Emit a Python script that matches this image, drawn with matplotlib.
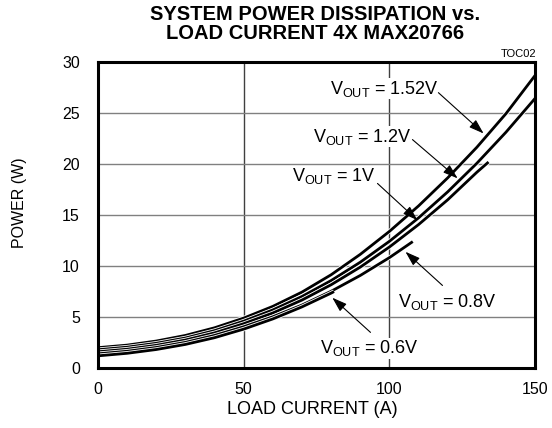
import numpy as np
import matplotlib.pyplot as plt
import matplotlib.patheffects as pe

plt.rcParams['font.family'] = ['Liberation Sans', 'DejaVu Sans']
plt.rcParams['mathtext.fontset'] = 'custom'
plt.rcParams['mathtext.rm'] = 'Liberation Sans'

# load current (A) and power (W)
i_full = [0, 10, 20, 30, 40, 50, 60, 70, 80, 90, 100, 110, 120, 130, 140, 150]
p_152 = [2.0, 2.25, 2.65, 3.2, 3.95, 4.9, 6.05, 7.45, 9.15, 11.15, 13.4, 15.9, 18.65, 21.65, 24.95, 28.7]
p_120 = [1.8, 2.05, 2.43, 2.95, 3.67, 4.6, 5.7, 7.02, 8.58, 10.38, 12.43, 14.73, 17.28, 20.08, 23.13, 26.45]

i_100 = [0, 10, 20, 30, 40, 50, 60, 70, 80, 90, 100, 110, 120, 130, 134]
p_100 = [1.6, 1.85, 2.23, 2.75, 3.45, 4.35, 5.4, 6.67, 8.17, 9.9, 11.87, 14.07, 16.5, 19.2, 20.2]

i_080 = [0, 10, 20, 30, 40, 50, 60, 70, 80, 90, 100, 108]
p_080 = [1.4, 1.65, 2.02, 2.52, 3.2, 4.05, 5.03, 6.18, 7.53, 9.08, 10.83, 12.4]

i_060 = [0, 10, 20, 30, 40, 50, 60, 70, 80, 81]
p_060 = [1.2, 1.45, 1.82, 2.32, 2.98, 3.82, 4.82, 6.0, 7.35, 7.5]

curves = [(i_full, p_152), (i_full, p_120), (i_100, p_100), (i_080, p_080), (i_060, p_060)]

# label text, text pos (baseline), arrow start, arrow tip
labels = [
    (r'V$_{\rm OUT}$ = 1.52V', (79.7, 26.9), (116.8, 27.0), (132.3, 23.0)),
    (r'V$_{\rm OUT}$ = 1.2V', (73.9, 22.2), (107.9, 22.4), (123.4, 18.6)),
    (r'V$_{\rm OUT}$ = 1V', (66.7, 18.3), (95.9, 18.1), (109.6, 14.5)),
    (r'V$_{\rm OUT}$ = 0.8V', (103.0, 6.0), (118.2, 8.1), (105.5, 11.4)),
    (r'V$_{\rm OUT}$ = 0.6V', (76.3, 1.45), (93.5, 3.5), (80.4, 6.9)),
]

fig = plt.figure(figsize=(5.52, 4.28), dpi=100)
ax = fig.add_axes([0.1775, 0.140, 0.792, 0.715])

for x, y in curves:
    ax.plot(x, y, color='black', lw=2.0, solid_capstyle='butt', solid_joinstyle='round',
            path_effects=[pe.Stroke(linewidth=3.2, foreground='white'), pe.Normal()], zorder=3)

for txt, tpos, a0, a1 in labels:
    ax.text(tpos[0], tpos[1], txt, fontsize=13, va='baseline', ha='left', zorder=4,
            bbox=dict(facecolor='white', edgecolor='none', pad=0.5))
    ax.annotate('', xy=a1, xytext=a0, zorder=5,
                arrowprops=dict(arrowstyle='-|>,head_length=0.9,head_width=0.3',
                                color='black', lw=0.8, shrinkA=0, shrinkB=0))

ax.set_xlim(0, 150)
ax.set_ylim(0, 30)
ax.set_xticks([0, 50, 100, 150])
ax.set_yticks([0, 5, 10, 15, 20, 25, 30])
ax.tick_params(length=0, labelsize=11.5)
ax.tick_params(axis='y', pad=13)
ax.tick_params(axis='x', pad=10)
ax.yaxis.grid(True, color='#808080', lw=1.0)
ax.xaxis.grid(True, color='#404040', lw=1.0)
ax.set_axisbelow(True)
for s in ax.spines.values():
    s.set_linewidth(2.2)
    s.set_zorder(6)

fig.text(312 / 552, 1 - 410 / 428, 'LOAD CURRENT (A)', fontsize=13, ha='center', va='center')
fig.text(20 / 552, 1 - 203 / 428, 'POWER (W)', fontsize=11.5, rotation=90, ha='center', va='center',
         family=['Liberation Sans Narrow', 'Liberation Sans'])

fig.text(0.570, 0.988, 'SYSTEM POWER DISSIPATION vs.\nLOAD CURRENT 4X MAX20766',
         ha='center', va='top', fontsize=14.5, fontweight='bold', linespacing=1.0)
fig.text(0.972, 0.862, 'TOC02', ha='right', va='bottom', fontsize=8)

fig.savefig('out.png', dpi=100)
